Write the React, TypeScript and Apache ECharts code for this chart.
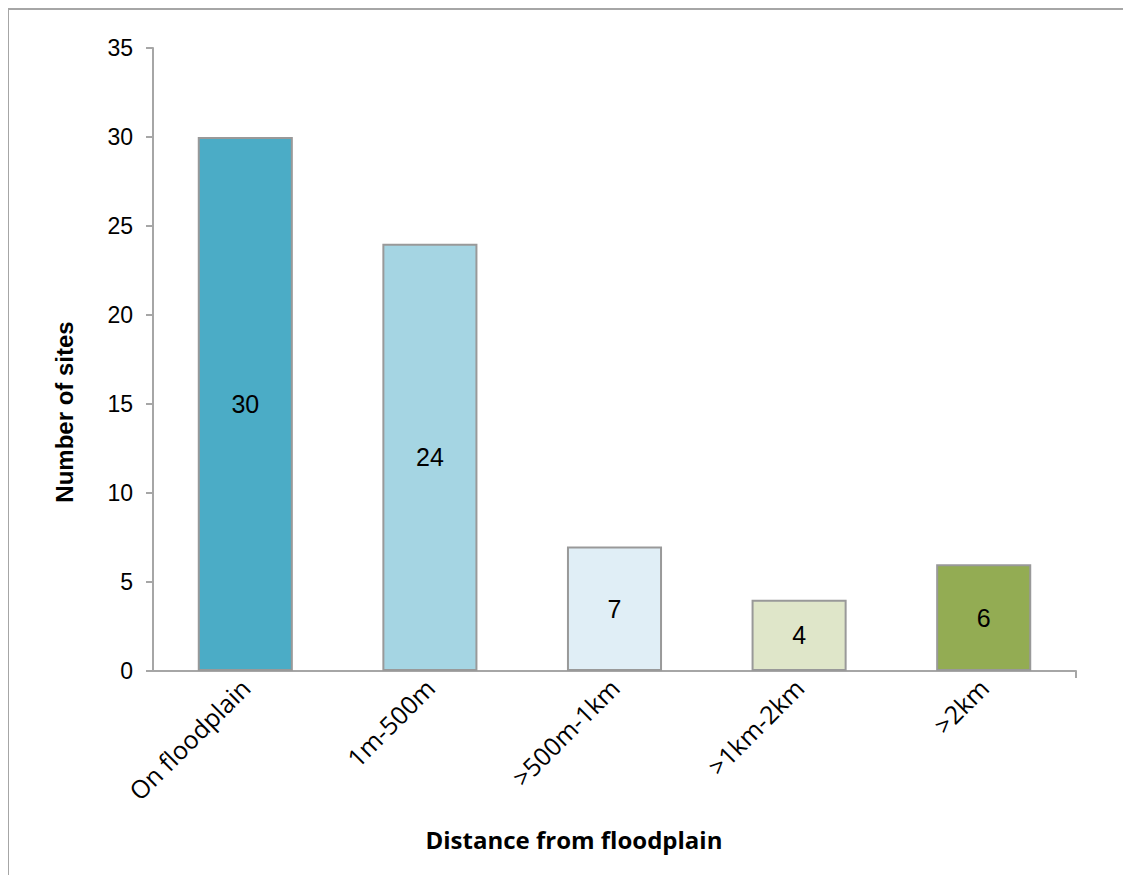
import React, { useEffect, useRef } from "react";
import * as echarts from "echarts";

const categories = ["On floodplain", "1m-500m", ">500m-1km", ">1km-2km", ">2km"];
const siteCounts = [30, 24, 7, 4, 6];
const barColors = ["#4bacc6", "#a5d5e3", "#e0eef6", "#dfe6c9", "#93ac53"];
const yTitle = "Number of sites";
const xTitle = "Distance from floodplain";

const GRID_LEFT = 144;
const GRID_TOP = 38;
const GRID_W = 923;
const GRID_H = 623;

export default function App() {
  const ref = useRef<HTMLDivElement>(null);
  useEffect(() => {
    if (!ref.current) return;
    const chart = echarts.init(ref.current, undefined, { renderer: "svg" });
    chart.setOption({
      animation: false,
      backgroundColor: "#ffffff",
      grid: { left: GRID_LEFT, top: GRID_TOP, width: GRID_W, height: GRID_H, containLabel: false },
      xAxis: {
        type: "category",
        data: categories,
        axisLine: { lineStyle: { color: "#a6a6a6", width: 2 } },
        axisTick: { alignWithLabel: true, length: 7, lineStyle: { color: "#a6a6a6", width: 2 } },
        axisLabel: {
          rotate: 45,
          color: "#000",
          fontFamily: "Open Sans",
          fontSize: 25,
          margin: 12,
          interval: 0,
        },
      },
      yAxis: {
        type: "value",
        min: 0,
        max: 35,
        interval: 5,
        splitLine: { show: false },
        axisLine: { show: true, lineStyle: { color: "#a6a6a6", width: 2 } },
        axisTick: { show: true, length: 7, lineStyle: { color: "#a6a6a6", width: 2 } },
        axisLabel: { color: "#000", fontFamily: "'Liberation Sans', Arial", fontSize: 23, margin: 20 },
      },
      series: [
        {
          type: "bar",
          barWidth: "51.5%",
          data: siteCounts.map((v, i) => ({
            value: v,
            itemStyle: { color: barColors[i], borderColor: "#999999", borderWidth: 2 },
          })),
          label: {
            show: true,
            position: "inside",
            color: "#000",
            fontFamily: "'Liberation Sans', Arial",
            fontSize: 25,
          },
        },
      ],
      graphic: [
        {
          type: "line",
          shape: { x1: GRID_LEFT + GRID_W, y1: GRID_TOP + GRID_H, x2: GRID_LEFT + GRID_W, y2: GRID_TOP + GRID_H + 7 },
          style: { stroke: "#a6a6a6", lineWidth: 2 },
        },
        {
          type: "text",
          x: 565,
          y: 829,
          style: {
            text: xTitle,
            fill: "#000",
            font: "bold 24px 'Open Sans'",
            textAlign: "center",
            textVerticalAlign: "middle",
          },
        },
        {
          type: "text",
          x: 55,
          y: 402,
          rotation: Math.PI / 2,
          style: {
            text: yTitle,
            fill: "#000",
            font: "bold 24px 'Liberation Sans', Arial",
            textAlign: "center",
            textVerticalAlign: "middle",
          },
        },
      ],
    });
    return () => chart.dispose();
  }, []);
  return (
    <div
      style={{
        width: 1123,
        height: 867,
        marginLeft: -1,
        borderLeft: "2px solid #a6a6a6",
        borderTop: "2px solid #a6a6a6",
        boxSizing: "border-box",
        overflow: "hidden",
      }}
    >
      <div ref={ref} style={{ width: 1121, height: 865 }} />
    </div>
  );
}
